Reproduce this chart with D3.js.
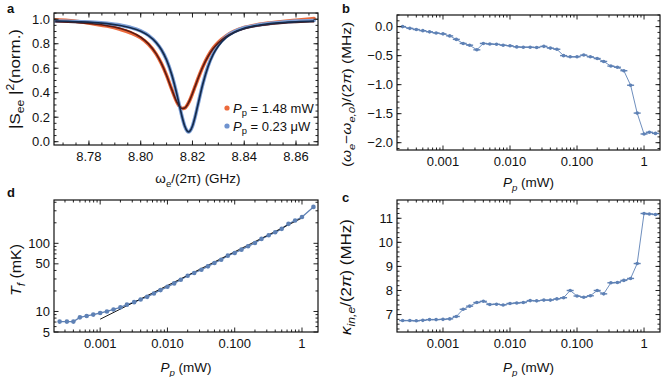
<!DOCTYPE html>
<html>
<head>
<meta charset="utf-8">
<script src="https://cdn.jsdelivr.net/npm/d3@7"></script>
<style>
body { margin: 0; background: #fff; }
text { font-family: "Liberation Sans", Arial, sans-serif; fill: #111; white-space: pre; }
</style>
</head>
<body>
<svg id="fig" width="664" height="377"></svg>
<script>
// ---- panel a: transmission spectra (fit and data)
var freqA = [8.767, 8.772, 8.777, 8.782, 8.787, 8.792, 8.796, 8.800, 8.803, 8.806, 8.808, 8.810,
    8.812, 8.814, 8.815, 8.816, 8.817, 8.818, 8.8185, 8.819, 8.820, 8.821, 8.822, 8.824, 8.826,
    8.828, 8.830, 8.833, 8.836, 8.840, 8.845, 8.850, 8.855, 8.860, 8.867];
var fitHigh = [0.980, 0.976, 0.970, 0.961, 0.947, 0.925, 0.898, 0.853, 0.799, 0.717, 0.639, 0.541,
    0.427, 0.323, 0.288, 0.271, 0.275, 0.300, 0.319, 0.341, 0.394, 0.451, 0.508, 0.612, 0.696,
    0.760, 0.807, 0.858, 0.892, 0.922, 0.945, 0.959, 0.969, 0.975, 0.981];
var fitLow = [0.986, 0.983, 0.979, 0.973, 0.964, 0.949, 0.931, 0.902, 0.866, 0.809, 0.751, 0.667,
    0.547, 0.384, 0.292, 0.202, 0.128, 0.086, 0.080, 0.086, 0.128, 0.202, 0.292, 0.471, 0.612,
    0.713, 0.782, 0.850, 0.891, 0.925, 0.949, 0.964, 0.973, 0.979, 0.984];
var dataHigh = [0.995, 0.990, 0.978, 0.962, 0.944, 0.918, 0.890, 0.848, 0.795, 0.715, 0.638, 0.541,
    0.427, 0.323, 0.288, 0.271, 0.275, 0.300, 0.319, 0.341, 0.394, 0.451, 0.508, 0.612, 0.698,
    0.764, 0.812, 0.864, 0.900, 0.932, 0.955, 0.970, 0.982, 0.992, 1.005];
var dataLow = [0.985, 0.984, 0.980, 0.975, 0.966, 0.952, 0.934, 0.905, 0.868, 0.809, 0.751, 0.667,
    0.547, 0.384, 0.292, 0.202, 0.128, 0.086, 0.080, 0.086, 0.128, 0.202, 0.292, 0.471, 0.615,
    0.718, 0.790, 0.858, 0.897, 0.930, 0.952, 0.966, 0.977, 0.985, 0.990];
var xTicksA = [8.78, 8.80, 8.82, 8.84, 8.86];
var yTicksA = [0, 0.2, 0.4, 0.6, 0.8, 1.0];

// ---- panels b, c: shift and linewidth vs pump power
var powerBC = [0.00025, 0.00032, 0.0004, 0.0005, 0.00063, 0.00079, 0.001, 0.00126, 0.00158, 0.002,
    0.0025, 0.0032, 0.004, 0.005, 0.0063, 0.0079, 0.01, 0.0126, 0.0158, 0.02, 0.025, 0.032, 0.04,
    0.05, 0.063, 0.079, 0.1, 0.126, 0.158, 0.2, 0.25, 0.32, 0.4, 0.5, 0.63, 0.79, 1.0, 1.2, 1.48];
var shiftB = [0.0, -0.03, -0.05, -0.07, -0.09, -0.11, -0.125, -0.16, -0.22, -0.29, -0.32, -0.40,
    -0.29, -0.30, -0.305, -0.32, -0.33, -0.35, -0.355, -0.355, -0.36, -0.34, -0.37, -0.39, -0.50,
    -0.52, -0.52, -0.49, -0.52, -0.55, -0.60, -0.68, -0.70, -0.76, -1.01, -1.49, -1.85, -1.82, -1.84];
var kappaC = [6.75, 6.75, 6.74, 6.76, 6.79, 6.79, 6.80, 6.82, 6.92, 7.22, 7.35, 7.50, 7.55, 7.42,
    7.43, 7.40, 7.46, 7.48, 7.50, 7.58, 7.57, 7.60, 7.60, 7.65, 7.70, 8.00, 7.77, 7.72, 7.78, 8.00,
    7.86, 8.32, 8.33, 8.42, 8.50, 9.12, 11.20, 11.18, 11.16];
var yTicksB = [0, -0.5, -1.0, -1.5, -2.0];
var yTicksC = [7, 8, 9, 10, 11];

// ---- panel d: temperature vs pump power
var powerD = [0.00025, 0.00032, 0.0004, 0.0005, 0.00063, 0.00079, 0.001, 0.00126, 0.00158, 0.002,
    0.0025, 0.0032, 0.004, 0.005, 0.0063, 0.0079, 0.01, 0.0126, 0.0158, 0.02, 0.025, 0.032, 0.04,
    0.05, 0.063, 0.079, 0.1, 0.126, 0.158, 0.2, 0.25, 0.32, 0.4, 0.5, 0.63, 0.79, 1.0, 1.48];
var tempD = [7.1, 7.1, 7.1, 8.2, 8.6, 9.0, 9.5, 10.0, 10.7, 11.5, 12.6, 13.7, 15.0, 16.4, 18.4,
    20.6, 23.0, 25.8, 29.2, 33.5, 36.7, 41.0, 45.9, 51.4, 57.5, 65.9, 72.2, 80.8, 90.4, 101, 116,
    131, 145, 163, 193, 216, 243, 342];
var fitPowerD = [0.001, 1];
var fitTempD = [7.7, 235];
var yTicksD = [5, 10, 50, 100];

var xTicksLog = [0.001, 0.01, 0.1, 1];
var xLabelsLog = ["0.001", "0.010", "0.100", "1"];

var svg = d3.select("#fig");
var blue = "#5e81b5";
var fs = 13;

function rich(sel, parts, size) {
    var shift = 0;
    parts.forEach(function(p) {
        var off = p.sub ? size * 0.3 : (p.sup ? -size * 0.4 : 0);
        sel.append("tspan")
            .attr("dy", off - shift)
            .style("font-size", (p.sub || p.sup) ? (size * 0.72) + "px" : size + "px")
            .style("font-style", p.i ? "italic" : "normal")
            .text(p.t);
        shift = off;
    });
    return sel;
}

function logMinor(domain, majors) {
    var out = [];
    for (var e = -5; e <= 3; e++) {
        for (var m = 1; m < 10; m++) {
            var v = +(m * Math.pow(10, e)).toPrecision(3);
            if (v >= domain[0] && v <= domain[1] && majors.indexOf(v) < 0) out.push(v);
        }
    }
    return out;
}

function linMinor(domain, step) {
    var out = [];
    var start = Math.ceil(domain[0] / step - 1e-9);
    for (var k = start; k * step <= domain[1] + 1e-9; k++) out.push(k * step);
    return out;
}

var clipId = 0;
function panel(o) {
    var b = o.box;
    var g = svg.append("g");
    var x = o.x.range([b[0], b[2]]);
    var y = o.y.range([b[3], b[1]]);
    var id = "clip" + (clipId++);
    g.append("clipPath").attr("id", id)
        .append("rect").attr("x", b[0]).attr("y", b[1])
        .attr("width", b[2] - b[0]).attr("height", b[3] - b[1]);
    var plot = g.append("g").attr("clip-path", "url(#" + id + ")");
    var axes = g.append("g");

    function tickX(v, len) {
        axes.append("line").attr("x1", x(v)).attr("x2", x(v)).attr("y1", b[3]).attr("y2", b[3] - len);
        axes.append("line").attr("x1", x(v)).attr("x2", x(v)).attr("y1", b[1]).attr("y2", b[1] + len);
    }
    function tickY(v, len) {
        axes.append("line").attr("y1", y(v)).attr("y2", y(v)).attr("x1", b[0]).attr("x2", b[0] + len);
        axes.append("line").attr("y1", y(v)).attr("y2", y(v)).attr("x1", b[2]).attr("x2", b[2] - len);
    }
    o.xMinor.forEach(function(v) { tickX(v, 2.5); });
    o.xMajor.forEach(function(v) { tickX(v, 4.5); });
    o.yMinor.forEach(function(v) { tickY(v, 2.5); });
    o.yMajor.forEach(function(v) { tickY(v, 4.5); });
    axes.selectAll("line").attr("stroke", "#222").attr("stroke-width", 1);

    axes.append("rect").attr("x", b[0]).attr("y", b[1])
        .attr("width", b[2] - b[0]).attr("height", b[3] - b[1])
        .attr("fill", "none").attr("stroke", "#111").attr("stroke-width", 1.2);

    axes.selectAll(".xl").data(o.xMajor).enter().append("text")
        .attr("x", function(d) { return x(d); })
        .attr("y", b[3] + 16)
        .attr("text-anchor", "middle")
        .style("font-size", fs + "px")
        .text(function(d, i) { return o.xFmt(d, i); });
    axes.selectAll(".yl").data(o.yMajor).enter().append("text")
        .attr("x", b[0] - 4)
        .attr("y", function(d) { return y(d) + 4.5; })
        .attr("text-anchor", "end")
        .style("font-size", fs + "px")
        .text(function(d, i) { return o.yFmt(d, i); });

    rich(g.append("text")
        .attr("x", o.xLabelX || (b[0] + b[2]) / 2).attr("y", o.xLabelY)
        .attr("text-anchor", "middle"), o.xLabel, 13.5);
    // the rotated labels are set larger in the original
    rich(g.append("text")
        .attr("transform", "translate(" + o.yLabelX + "," + ((b[1] + b[3]) / 2 + (o.yLabelDy || 0)) + ") rotate(-90) scale(1,0.88)")
        .attr("text-anchor", "middle"), o.yLabel, o.yLabelSize || 17);
    g.append("text").attr("x", o.tag[1]).attr("y", o.tag[2])
        .style("font-size", "13px").style("font-weight", "bold").text(o.tag[0]);

    return {plot: plot, x: x, y: y};
}

var fmt1 = d3.format(".1f");
var logDomain = [0.000206, 1.73];
var pXLabel = [{t: "P", i: true}, {t: "p", sub: true, i: true}, {t: " (mW)"}];

// ---------- a
var pa = panel({
    box: [54, 13, 318, 145],
    x: d3.scaleLinear().domain([8.7665, 8.8685]),
    y: d3.scaleLinear().domain([-0.027, 1.051]),
    xMajor: xTicksA, xMinor: linMinor([8.7665, 8.8685], 0.005),
    yMajor: yTicksA, yMinor: linMinor([-0.027, 1.051], 0.05),
    xFmt: function(d) { return d3.format(".2f")(d); },
    yFmt: function(d) { return fmt1(d); },
    xLabel: [{t: "ω"}, {t: "e", sub: true}, {t: "/(2π) (GHz)"}], xLabelY: 183, xLabelX: 198,
    yLabel: [{t: "|S"}, {t: "ee", sub: true}, {t: " |"}, {t: "2", sup: true}, {t: "(norm.)"}], yLabelX: 20,
    tag: ["a", 7, 13]
});
function lineA(vals) {
    return d3.line().curve(d3.curveMonotoneX)
        .x(function(d, i) { return pa.x(freqA[i]); })
        .y(function(d) { return pa.y(d); })(vals);
}
pa.plot.append("path").attr("d", lineA(dataHigh)).attr("fill", "none")
    .attr("stroke", "#ec6a3c").attr("stroke-width", 3.6).attr("stroke-linecap", "round");
pa.plot.append("path").attr("d", lineA(dataLow)).attr("fill", "none")
    .attr("stroke", "#7d9fd6").attr("stroke-width", 3.6).attr("stroke-linecap", "round");
pa.plot.append("path").attr("d", lineA(fitHigh)).attr("fill", "none")
    .attr("stroke", "#5e1b12").attr("stroke-width", 1.7);
pa.plot.append("path").attr("d", lineA(fitLow)).attr("fill", "none")
    .attr("stroke", "#142b4d").attr("stroke-width", 1.7);

var legend = [
    {c: "#ec6a3c", parts: [{t: "P", i: true}, {t: "p", sub: true}, {t: " = 1.48 mW"}]},
    {c: "#6f93cf", parts: [{t: "P", i: true}, {t: "p", sub: true}, {t: " = 0.23 μW"}]}
];
legend.forEach(function(l, i) {
    svg.append("circle").attr("cx", 227).attr("cy", 108 + i * 18).attr("r", 2.6).attr("fill", l.c);
    rich(svg.append("text").attr("x", 233).attr("y", 112.5 + i * 18), l.parts, 13);
});

// ---------- b
var pb = panel({
    box: [397, 15, 660, 150],
    x: d3.scaleLog().domain(logDomain),
    y: d3.scaleLinear().domain([-2.126, 0.2]),
    xMajor: xTicksLog, xMinor: logMinor(logDomain, xTicksLog),
    yMajor: yTicksB, yMinor: linMinor([-2.126, 0.2], 0.1),
    xFmt: function(d, i) { return xLabelsLog[i]; },
    yFmt: function(d) { return fmt1(d); },
    xLabel: pXLabel, xLabelY: 187,
    yLabel: [{t: "("}, {t: "ω", i: true}, {t: "e", sub: true, i: true}, {t: "−"}, {t: "ω", i: true},
        {t: "e,0", sub: true, i: true}, {t: ")/(2"}, {t: "π", i: true}, {t: ") (MHz)"}],
    yLabelX: 351, yLabelDy: 12, yLabelSize: 15.5,
    tag: ["b", 342, 13]
});

// ---------- c
var pc = panel({
    box: [397, 200, 660, 332],
    x: d3.scaleLog().domain(logDomain),
    y: d3.scaleLinear().domain([6.275, 11.76]),
    xMajor: xTicksLog, xMinor: logMinor(logDomain, xTicksLog),
    yMajor: yTicksC, yMinor: linMinor([6.275, 11.76], 0.2),
    xFmt: function(d, i) { return xLabelsLog[i]; },
    yFmt: function(d) { return d; },
    xLabel: pXLabel, xLabelY: 372,
    yLabel: [{t: "κ", i: true}, {t: "in,e", sub: true, i: true}, {t: "/(2"}, {t: "π", i: true}, {t: ") (MHz)"}],
    yLabelX: 351, yLabelDy: 11,
    tag: ["c", 342, 202]
});

function errorSeries(p, vals) {
    var pts = powerBC.map(function(v, i) { return [p.x(v), p.y(vals[i])]; });
    p.plot.append("path").attr("d", d3.line()(pts)).attr("fill", "none")
        .attr("stroke", blue).attr("stroke-width", 0.9);
    var m = p.plot.selectAll(".m").data(pts).enter().append("g");
    m.append("line")
        .attr("x1", function(d) { return d[0] - 3.5; }).attr("x2", function(d) { return d[0] + 3.5; })
        .attr("y1", function(d) { return d[1]; }).attr("y2", function(d) { return d[1]; })
        .attr("stroke", blue).attr("stroke-width", 1.4);
    m.append("circle").attr("cx", function(d) { return d[0]; }).attr("cy", function(d) { return d[1]; })
        .attr("r", 1.8).attr("fill", blue);
}
errorSeries(pb, shiftB);
errorSeries(pc, kappaC);

// ---------- d
var pd = panel({
    box: [54, 200, 318, 332],
    x: d3.scaleLog().domain(logDomain),
    y: d3.scaleLog().domain([5, 432]),
    xMajor: xTicksLog, xMinor: logMinor(logDomain, xTicksLog),
    yMajor: yTicksD, yMinor: logMinor([5, 432], yTicksD),
    xFmt: function(d, i) { return xLabelsLog[i]; },
    yFmt: function(d) { return d; },
    xLabel: pXLabel, xLabelY: 372,
    yLabel: [{t: "T", i: true}, {t: "f", sub: true, i: true}, {t: " (mK)"}],
    yLabelX: 21, yLabelDy: 4, yLabelSize: 16,
    tag: ["d", 7, 197]
});
var ptsD = powerD.map(function(v, i) { return [pd.x(v), pd.y(tempD[i])]; });
pd.plot.append("path").attr("d", d3.line()(ptsD)).attr("fill", "none")
    .attr("stroke", blue).attr("stroke-width", 1.3);
pd.plot.append("path")
    .attr("d", d3.line()(fitPowerD.map(function(v, i) { return [pd.x(v), pd.y(fitTempD[i])]; })))
    .attr("stroke", "#000").attr("stroke-width", 0.9).attr("fill", "none");
pd.plot.selectAll(".dot").data(ptsD).enter().append("circle")
    .attr("cx", function(d) { return d[0]; }).attr("cy", function(d) { return d[1]; })
    .attr("r", 2.3).attr("fill", blue);
</script>
</body>
</html>
